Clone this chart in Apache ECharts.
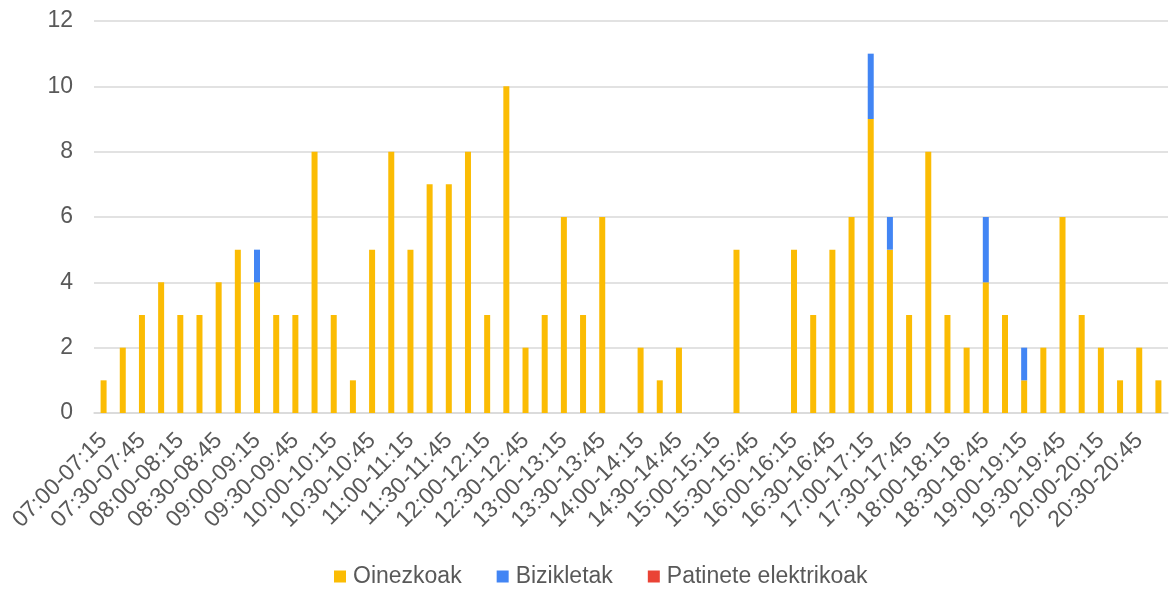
<!DOCTYPE html>
<html>
<head>
<meta charset="utf-8">
<script src="https://cdn.jsdelivr.net/npm/echarts@6/dist/echarts.min.js"></script>
<style>html,body{margin:0;padding:0;background:#fff;}#c{width:1169px;height:590px;}</style>
</head>
<body>
<div id="c"></div>
<script>
const categories = [
"07:00-07:15","07:15-07:30","07:30-07:45","07:45-08:00",
"08:00-08:15","08:15-08:30","08:30-08:45","08:45-09:00",
"09:00-09:15","09:15-09:30","09:30-09:45","09:45-10:00",
"10:00-10:15","10:15-10:30","10:30-10:45","10:45-11:00",
"11:00-11:15","11:15-11:30","11:30-11:45","11:45-12:00",
"12:00-12:15","12:15-12:30","12:30-12:45","12:45-13:00",
"13:00-13:15","13:15-13:30","13:30-13:45","13:45-14:00",
"14:00-14:15","14:15-14:30","14:30-14:45","14:45-15:00",
"15:00-15:15","15:15-15:30","15:30-15:45","15:45-16:00",
"16:00-16:15","16:15-16:30","16:30-16:45","16:45-17:00",
"17:00-17:15","17:15-17:30","17:30-17:45","17:45-18:00",
"18:00-18:15","18:15-18:30","18:30-18:45","18:45-19:00",
"19:00-19:15","19:15-19:30","19:30-19:45","19:45-20:00",
"20:00-20:15","20:15-20:30","20:30-20:45","20:45-21:00"
];
const oinezkoak = [1,2,3,4,3,3,4,5,4,3,3,8,3,1,5,8,5,7,7,8,3,10,2,3,6,3,6,0,2,1,2,0,0,5,0,0,5,3,5,6,9,5,3,8,3,2,4,3,1,2,6,3,2,1,2,1];
const bizikletak = [0,0,0,0,0,0,0,0,1,0,0,0,0,0,0,0,0,0,0,0,0,0,0,0,0,0,0,0,0,0,0,0,0,0,0,0,0,0,0,0,2,1,0,0,0,0,2,0,1,0,0,0,0,0,0,0];
const patineteak = [0,0,0,0,0,0,0,0,0,0,0,0,0,0,0,0,0,0,0,0,0,0,0,0,0,0,0,0,0,0,0,0,0,0,0,0,0,0,0,0,0,0,0,0,0,0,0,0,0,0,0,0,0,0,0,0];
const yTicks = {min:0, max:12, interval:2};

const chart = echarts.init(document.getElementById('c'), null, {renderer:'canvas'});
const font = 'Liberation Sans, Arial, sans-serif';
chart.setOption({
  animation:false,
  color:['#FBBC04','#4285F4','#EA4335'],
  grid:{left:94,right:1,top:21,bottom:177,containLabel:false},
  legend:{
    top:560,left:329,
    itemWidth:12,itemHeight:12,itemGap:35,
    icon:'rect',
    textStyle:{fontFamily:font,fontSize:23,color:'#595959',padding:[0,0,0,2]},
    data:['Oinezkoak','Bizikletak','Patinete elektrikoak']
  },
  xAxis:{
    type:'category',data:categories,
    axisLine:{lineStyle:{color:'#D9D9D9',width:1.5}},
    axisTick:{show:false},
    axisLabel:{interval:1,rotate:45,fontFamily:font,fontSize:23,color:'#595959',margin:24}
  },
  yAxis:{
    type:'value',min:yTicks.min,max:yTicks.max,interval:yTicks.interval,
    axisLine:{show:false},axisTick:{show:false},
    splitLine:{lineStyle:{color:'#D9D9D9',width:1.5}},
    axisLabel:{fontFamily:font,fontSize:23,color:'#595959',margin:21}
  },
  series:[
    {name:'Oinezkoak',type:'bar',stack:'a',data:oinezkoak,barWidth:6},
    {name:'Bizikletak',type:'bar',stack:'a',data:bizikletak,barWidth:6},
    {name:'Patinete elektrikoak',type:'bar',stack:'a',data:patineteak,barWidth:6}
  ]
});
</script>
</body>
</html>
